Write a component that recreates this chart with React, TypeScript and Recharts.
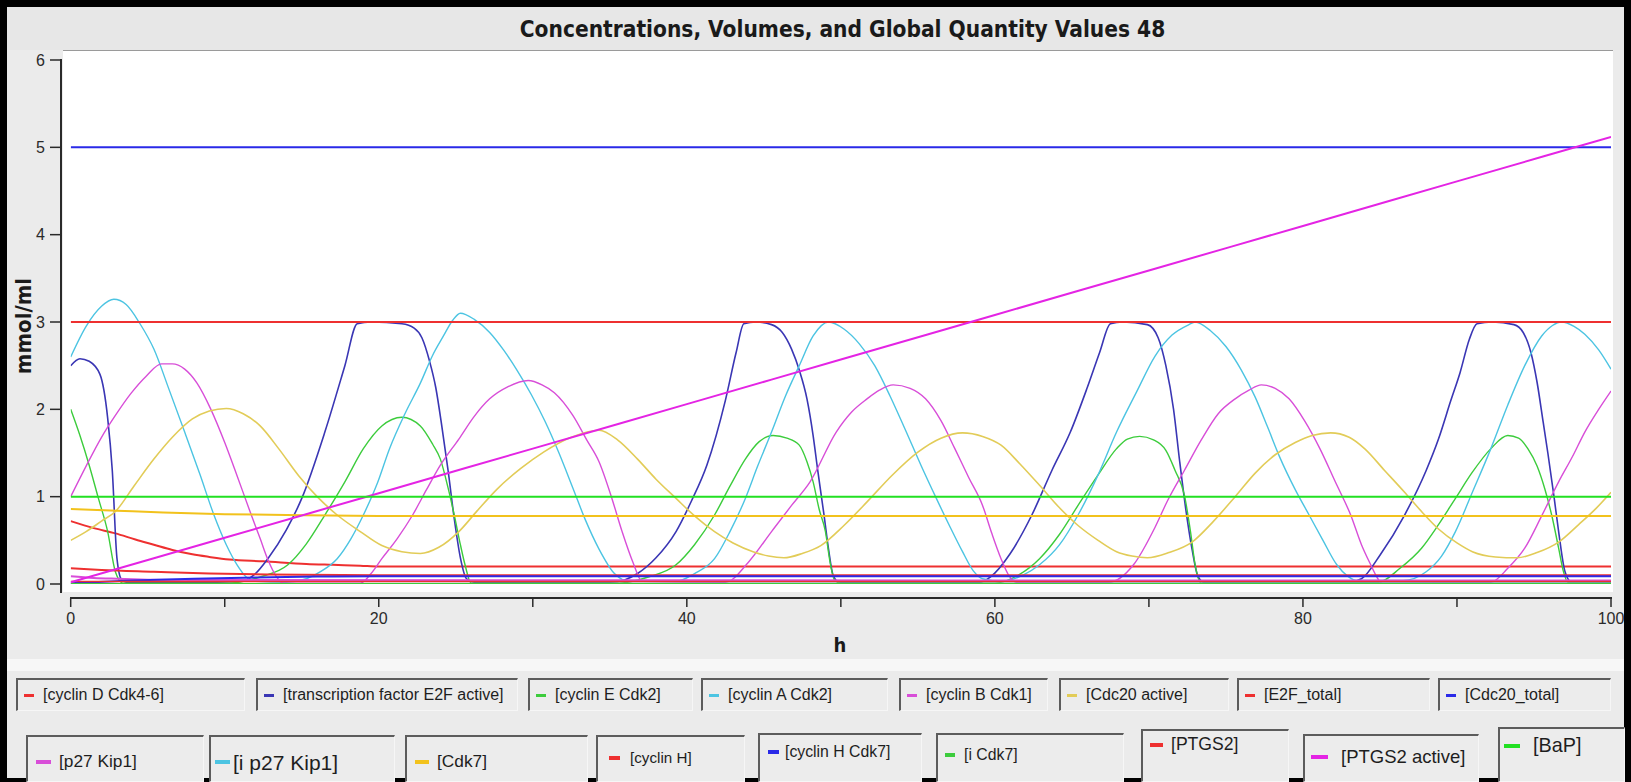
import { LineChart, Line, XAxis, YAxis } from 'recharts'

type Pt = [number, number]

// [h, mmol/ml] samples for each species
const cyclinDCdk46: Pt[] = [
  [0, 0.72], [1.5, 0.64], [2.9, 0.58], [4.2, 0.51], [5.4, 0.45], [6.6, 0.39], [7.9, 0.34],
  [9, 0.31], [10.3, 0.28], [12.5, 0.26], [15.3, 0.23], [17, 0.22], [18.8, 0.21], [20, 0.2], [100, 0.2],
]

const e2fActive: Pt[] = [
  [0, 2.5], [0.6, 2.58], [1.2, 2.55], [1.9, 2.4], [2.4, 1.9], [2.7, 1.3], [3.0, 0.3], [3.3, 0.05], [3.6, 0.02],
  [8, 0.02], [11, 0.03], [12, 0.12], [12.8, 0.29], [14, 0.62], [15, 0.98], [16.5, 1.74], [17.8, 2.5],
  [18.6, 2.98], [19.5, 3.0], [21.5, 2.98], [22.3, 2.93], [22.8, 2.82], [23.3, 2.55], [23.7, 2.25],
  [24.1, 1.8], [24.5, 1.3], [24.9, 0.75], [25.3, 0.3], [25.7, 0.06], [26.2, 0.02],
  [35, 0.02], [36, 0.05], [36.8, 0.12], [38, 0.3], [39.3, 0.6], [40.3, 0.95], [41.3, 1.36], [42.5, 2.1],
  [43.2, 2.65], [43.7, 2.98], [44.5, 3.0], [45.5, 2.97], [46.2, 2.88], [46.8, 2.69], [47.3, 2.45],
  [47.8, 2.12], [48.2, 1.7], [48.5, 1.3], [48.9, 0.8], [49.2, 0.4], [49.5, 0.1], [49.9, 0.02],
  [59, 0.02], [59.7, 0.08], [61, 0.35], [62.4, 0.79], [63.7, 1.3], [64.9, 1.74], [66, 2.25], [66.8, 2.65],
  [67.5, 2.98], [68.3, 3.0], [69.9, 2.97], [70.6, 2.82], [71.1, 2.5], [71.6, 2.0], [72.0, 1.4],
  [72.4, 0.85], [72.8, 0.4], [73.2, 0.08], [73.6, 0.02],
  [83, 0.02], [83.8, 0.06], [85, 0.33], [86.6, 0.79], [88, 1.3], [88.8, 1.66], [89.6, 2.1], [90.2, 2.42],
  [90.8, 2.8], [91.3, 2.98], [92.3, 3.0], [93.7, 2.97], [94.3, 2.88], [94.8, 2.65], [95.2, 2.31],
  [95.6, 1.85], [95.9, 1.5], [96.3, 1.0], [96.6, 0.6], [97.0, 0.15], [97.4, 0.03], [100, 0.02],
]

const cyclinECdk2: Pt[] = [
  [0, 2.0], [0.6, 1.7], [1.2, 1.36], [1.8, 0.98], [2.4, 0.6], [2.9, 0.14], [3.4, 0.01], [10.3, 0.01],
  [12.3, 0.08], [14.1, 0.22], [15.3, 0.46], [16.5, 0.79], [17.8, 1.17], [19, 1.55], [20.2, 1.81],
  [21.5, 1.91], [22.7, 1.81], [23.5, 1.6], [24, 1.43], [24.5, 1.1], [24.9, 0.79], [25.3, 0.45],
  [25.6, 0.22], [26, 0.01], [35.6, 0.01], [37.5, 0.08], [39.3, 0.22], [40.5, 0.45], [41.8, 0.79],
  [42.8, 1.12], [43.8, 1.43], [44.7, 1.63], [45.6, 1.7], [46.5, 1.67], [47.3, 1.59], [47.8, 1.4],
  [48.2, 1.17], [48.6, 0.85], [49, 0.6], [49.3, 0.25], [49.6, 0.04], [50, 0.01], [60, 0.01],
  [61.5, 0.1], [62.9, 0.29], [64.2, 0.57], [65.4, 0.9], [66.7, 1.25], [67.9, 1.55], [68.6, 1.66],
  [69.4, 1.69], [70.3, 1.65], [71.1, 1.53], [71.7, 1.3], [72.3, 1.02], [72.7, 0.6], [73.0, 0.22],
  [73.4, 0.01], [84.9, 0.02], [86.3, 0.18], [87.7, 0.41], [88.8, 0.68], [89.9, 0.98], [91, 1.28],
  [92.2, 1.55], [93.3, 1.7], [94, 1.67], [94.6, 1.55], [95.2, 1.35], [95.7, 1.09], [96.2, 0.75],
  [96.6, 0.41], [96.9, 0.15], [97.2, 0.02], [100, 0.01],
]

const cyclinACdk2: Pt[] = [
  [0, 2.6], [1, 2.95], [2, 3.18], [2.8, 3.26], [3.6, 3.2], [4.5, 2.98], [5.4, 2.69], [6.4, 2.22],
  [7.4, 1.74], [8.4, 1.25], [9.3, 0.79], [10.1, 0.45], [10.8, 0.22], [11.4, 0.08], [12, 0.03],
  [14, 0.02], [15.3, 0.06], [16.3, 0.15], [17.3, 0.29], [18.2, 0.52], [19, 0.79], [19.9, 1.15],
  [20.7, 1.55], [21.7, 1.95], [22.7, 2.3], [23.5, 2.62], [24.2, 2.84], [24.8, 3.02], [25.3, 3.1],
  [26.2, 3.03], [27.2, 2.88], [28.1, 2.68], [29.0, 2.44], [29.9, 2.17], [30.8, 1.86], [31.7, 1.5],
  [32.6, 1.1], [33.4, 0.74], [34.3, 0.4], [35.3, 0.12], [36.3, 0.03], [39.3, 0.03], [40.5, 0.12],
  [41.8, 0.29], [42.8, 0.6], [43.8, 0.98], [44.6, 1.35], [45.5, 1.74], [46.4, 2.15], [47.3, 2.5],
  [48.2, 2.84], [49.2, 3.0], [50.2, 2.92], [51.2, 2.75], [52.2, 2.5], [53.2, 2.15], [54.2, 1.76],
  [55.2, 1.36], [56.2, 0.98], [57.1, 0.65], [57.9, 0.37], [58.6, 0.15], [59.2, 0.06], [60.5, 0.03],
  [61.8, 0.1], [62.9, 0.22], [64.2, 0.45], [65.4, 0.79], [66.7, 1.25], [67.9, 1.74], [69.2, 2.2],
  [70.4, 2.61], [71.5, 2.85], [72.6, 2.97], [73.0, 3.0], [74.0, 2.9], [75.0, 2.72], [76.0, 2.45],
  [76.9, 2.14], [77.7, 1.8], [78.5, 1.45], [79.5, 1.08], [80.4, 0.79], [81.3, 0.5], [82.2, 0.22],
  [82.9, 0.09], [83.5, 0.04], [86.5, 0.04], [88, 0.14], [89, 0.32], [89.9, 0.6], [91, 1.05],
  [92.2, 1.55], [93.3, 2.05], [94.4, 2.5], [95.5, 2.84], [96.2, 2.96], [96.8, 3.0], [97.6, 2.95],
  [98.3, 2.86], [99.2, 2.68], [100, 2.46],
]

const cyclinBCdk1: Pt[] = [
  [0, 1.0], [1, 1.35], [2, 1.68], [2.9, 1.93], [3.9, 2.18], [4.9, 2.38], [5.9, 2.52], [6.6, 2.52],
  [7.4, 2.46], [8.2, 2.3], [9.1, 2.0], [10, 1.62], [10.8, 1.24], [11.6, 0.85], [12.3, 0.52],
  [12.8, 0.28], [13.3, 0.1], [13.8, 0.01], [18.8, 0.01], [19.5, 0.12], [20.2, 0.29], [21.2, 0.52],
  [22.2, 0.79], [23.1, 1.08], [24, 1.36], [25.2, 1.66], [26.2, 1.92], [27.2, 2.12], [28.4, 2.26],
  [29.7, 2.33], [30.6, 2.28], [31.4, 2.19], [32.6, 1.93], [33.5, 1.65], [34.3, 1.4], [35.1, 1.0],
  [35.8, 0.6], [36.5, 0.25], [37.1, 0.03], [42.5, 0.02], [44, 0.25], [45.5, 0.6], [46.8, 0.9],
  [48, 1.17], [49.7, 1.74], [50.7, 1.97], [51.7, 2.12], [52.5, 2.22], [53.4, 2.28], [54.5, 2.24],
  [55.5, 2.12], [56.5, 1.87], [57.4, 1.55], [58.3, 1.22], [59.2, 0.9], [59.8, 0.58], [60.4, 0.29],
  [60.9, 0.1], [61.4, 0.02], [67.4, 0.02], [69, 0.22], [70.4, 0.65], [71.2, 0.95], [72.3, 1.3],
  [73.4, 1.65], [74.5, 1.95], [75.6, 2.12], [76.5, 2.22], [77.3, 2.28], [78.2, 2.24], [79.1, 2.12],
  [80.1, 1.87], [81.1, 1.55], [82.1, 1.17], [83.1, 0.79], [83.8, 0.45], [84.4, 0.22], [84.8, 0.08],
  [85.1, 0.01], [92.2, 0.02], [93.3, 0.18], [94.4, 0.41], [95.5, 0.78], [96.6, 1.17], [97.5, 1.46],
  [98.3, 1.74], [99.2, 2.0], [100, 2.21],
]

const cdc20Active: Pt[] = [
  [0, 0.5], [1, 0.6], [2, 0.72], [2.9, 0.83], [4.1, 1.12], [5.4, 1.43], [6.6, 1.68], [7.9, 1.89],
  [9, 1.98], [10.1, 2.01], [11.2, 1.95], [12.3, 1.81], [13.5, 1.55], [14.8, 1.24], [16, 1.0],
  [17.3, 0.79], [18.8, 0.6], [20.2, 0.44], [21.5, 0.37], [22.7, 0.35], [23.9, 0.42], [25.2, 0.6],
  [26.4, 0.84], [27.7, 1.09], [29.2, 1.32], [30.7, 1.51], [32.5, 1.68], [34.3, 1.76], [35.5, 1.65],
  [36.8, 1.43], [38, 1.2], [39.3, 0.98], [40.5, 0.78], [41.8, 0.6], [43, 0.47], [44.3, 0.37],
  [45.3, 0.32], [46.3, 0.3], [47.5, 0.35], [48.7, 0.44], [50.2, 0.67], [51.7, 0.94], [53.3, 1.24],
  [55, 1.51], [56.5, 1.67], [57.9, 1.73], [59.2, 1.69], [60.4, 1.59], [61.6, 1.38], [62.9, 1.13],
  [64.1, 0.89], [65.4, 0.67], [66.7, 0.5], [67.9, 0.37], [68.9, 0.32], [69.9, 0.3], [71.3, 0.36],
  [72.8, 0.48], [74.2, 0.72], [75.6, 1.0], [76.9, 1.27], [78.2, 1.48], [79.5, 1.62], [80.6, 1.7],
  [81.8, 1.73], [83, 1.68], [84, 1.55], [85.3, 1.3], [86.6, 1.05], [87.7, 0.83], [88.8, 0.63],
  [90, 0.47], [91, 0.37], [92.5, 0.31], [93.9, 0.3], [95.2, 0.36], [96.6, 0.48], [97.9, 0.68],
  [99, 0.86], [100, 1.05],
]

const e2fTotal: Pt[] = [[0, 3.0], [100, 3.0]]
const cdc20Total: Pt[] = [[0, 5.0], [100, 5.0]]
const p27Kip1: Pt[] = [[0, 0.09], [1.5, 0.07], [3, 0.06], [5, 0.05], [8, 0.045], [100, 0.04]]
const ip27Kip1: Pt[] = [[0, 0.0], [100, 0.01]]
const cdk7: Pt[] = [[0, 0.86], [3, 0.84], [6, 0.82], [10, 0.8], [14, 0.79], [20, 0.78], [100, 0.78]]
const cyclinH: Pt[] = [[0, 0.18], [2, 0.16], [5.4, 0.14], [9, 0.12], [12.8, 0.11], [20, 0.1], [100, 0.1]]
const cyclinHCdk7: Pt[] = [[0, 0.01], [4, 0.04], [8, 0.06], [12, 0.075], [16, 0.085], [20, 0.09], [100, 0.09]]
const iCdk7: Pt[] = [[0, 0.0], [100, 0.0]]
const ptgs2: Pt[] = [[0, 0.03], [100, 0.03]]
const ptgs2Active: Pt[] = [
  [0, 0.02], [10, 0.53], [20, 1.04], [30, 1.55], [40, 2.06], [50, 2.57], [60, 3.08], [70, 3.59],
  [80, 4.1], [90, 4.61], [100, 5.12],
]
const bap: Pt[] = [[0, 1.0], [100, 1.0]]

const xTicks = [0, 10, 20, 30, 40, 50, 60, 70, 80, 90, 100]
const xMinorTicks = Array.from({ length: 21 }, (_, i) => i * 5)
const yTicks = [0, 1, 2, 3, 4, 5, 6]
const yMinorTicks = Array.from({ length: 31 }, (_, i) => +(i * 0.2).toFixed(1))

const RED = '#ee3030'
const BLUE = '#2a2ae8'
const NAVY = '#3a36b4'
const GREEN = '#3ccc3c'
const BRIGHT_GREEN = '#22e022'
const CYAN = '#4cc4e2'
const MAGENTA = '#d84ed8'
const BRIGHT_MAGENTA = '#e424e4'
const YELLOW = '#e2cc58'
const GOLD = '#f2c21c'

const series = [
  { name: '[cyclin D Cdk4-6]', color: RED, w: 2, pts: cyclinDCdk46 },
  { name: '[transcription factor E2F active]', color: NAVY, w: 1.6, pts: e2fActive },
  { name: '[cyclin E Cdk2]', color: GREEN, w: 1.4, pts: cyclinECdk2 },
  { name: '[cyclin A Cdk2]', color: CYAN, w: 1.4, pts: cyclinACdk2 },
  { name: '[cyclin B Cdk1]', color: MAGENTA, w: 1.4, pts: cyclinBCdk1 },
  { name: '[Cdc20 active]', color: YELLOW, w: 1.6, pts: cdc20Active },
  { name: '[E2F_total]', color: RED, w: 2, pts: e2fTotal },
  { name: '[Cdc20_total]', color: BLUE, w: 2, pts: cdc20Total },
  { name: '[p27 Kip1]', color: MAGENTA, w: 2, pts: p27Kip1 },
  { name: '[i p27 Kip1]', color: CYAN, w: 2, pts: ip27Kip1 },
  { name: '[Cdk7]', color: GOLD, w: 2, pts: cdk7 },
  { name: '[cyclin H]', color: RED, w: 2, pts: cyclinH },
  { name: '[cyclin H Cdk7]', color: BLUE, w: 2, pts: cyclinHCdk7 },
  { name: '[i Cdk7]', color: GREEN, w: 2, pts: iCdk7 },
  { name: '[PTGS2]', color: RED, w: 1.5, pts: ptgs2 },
  { name: '[PTGS2 active]', color: BRIGHT_MAGENTA, w: 2, pts: ptgs2Active },
  { name: '[BaP]', color: BRIGHT_GREEN, w: 2, pts: bap },
]

// legend boxes, row 1: [left, right]
const legendRow1 = [
  [16, 245], [256, 518], [528, 693], [701, 888], [899, 1048], [1059, 1229], [1237, 1430], [1438, 1611],
]
// row 2: [left, right, top, fontSize, text center y, dash offset, dash width, text offset]
const legendRow2 = [
  [26, 204, 735, 17.3, 762, 10, 15, 33],
  [209, 395, 735, 21, 762, 6, 15, 24],
  [405, 588, 735, 17.3, 762, 10, 14, 32],
  [596, 745, 735, 15.2, 758, 13, 11, 34],
  [758, 922, 733, 15.8, 752, 10, 11, 27],
  [936, 1124, 733, 15.8, 755, 9, 10, 28],
  [1141, 1289, 729, 17.6, 745, 9, 13, 30],
  [1303, 1479, 734, 18.5, 757, 8, 17, 38],
  [1498, 1625, 727, 19.8, 746, 6, 16, 35],
]

const SANS = '"Liberation Sans", Arial, sans-serif'
const BOLD = '"DejaVu Sans Condensed", "DejaVu Sans", sans-serif'
const BOX_EDGE = '#5c5c5c'

function LegendBox({ left, right, top, bottom, fontSize, cy, dashX, dashW, dashH, textX, name, color }: any) {
  return (
    <div style={{
      position: 'absolute', left, top, width: right - left, height: bottom - top, boxSizing: 'border-box',
      background: '#ececec', borderTop: `2px solid ${BOX_EDGE}`, borderLeft: `2px solid ${BOX_EDGE}`,
      borderRight: '1px solid #f6f6f6', borderBottom: '1px solid #f6f6f6',
    }}>
      <div style={{
        position: 'absolute', left: dashX - 2, top: cy - top - 2 - dashH / 2, width: dashW, height: dashH, background: color,
      }} />
      <div style={{
        position: 'absolute', left: textX - 2, top: cy - top - 2, transform: 'translateY(-50%)',
        fontFamily: SANS, fontSize, color: '#1e1e1e', whiteSpace: 'nowrap', lineHeight: 1,
      }}>{name}</div>
    </div>
  )
}

export default function App() {
  const axisTick = { fontSize: 16, fill: '#2a2a2a', fontFamily: SANS }
  const tickLine = { stroke: '#2a2a2a', strokeWidth: 1.5 }
  return (
    <div style={{ position: 'absolute', left: 0, top: 0, width: 1631, height: 782, background: '#000', overflow: 'hidden' }}>
      <div style={{ position: 'absolute', left: 7, top: 7, right: 7, bottom: 4, background: '#ebebeb' }} />
      <div style={{ position: 'absolute', left: 7, top: 7, right: 7, height: 43, background: '#e7e7e7' }} />
      <div style={{
        position: 'absolute', left: 0, width: 1631, top: 29, transform: 'translateY(-50%)', textAlign: 'center',
        paddingLeft: 54, boxSizing: 'border-box', fontFamily: BOLD, fontWeight: 700, fontSize: 22.5, color: '#1a1a1a', lineHeight: 1,
      }}>Concentrations, Volumes, and Global Quantity Values 48</div>

      {/* plot background and the two axis lines */}
      <div style={{ position: 'absolute', left: 63, top: 50, width: 1550, height: 542, background: '#fff', borderTop: '1px solid #9a9a9a', boxSizing: 'border-box' }} />
      <div style={{ position: 'absolute', left: 60, top: 59, width: 2, height: 534, background: '#2a2a2a' }} />
      <div style={{ position: 'absolute', left: 70, top: 597, width: 1542, height: 2, background: '#2a2a2a' }} />
      <div style={{ position: 'absolute', left: 7, right: 7, top: 659, height: 12, background: '#f7f7f7' }} />

      <div style={{ position: 'absolute', left: 0, top: 0 }}>
        <LineChart width={1631} height={782} margin={{ top: 50, right: 18, left: 22, bottom: 154 }}>
          <XAxis xAxisId="hm" type="number" dataKey="h" domain={[0, 100]} ticks={xMinorTicks} tick={false}
            tickSize={4} axisLine={false} height={0} padding={{ left: 8.7, right: 2 }} allowDataOverflow
            tickLine={tickLine} />
          <XAxis xAxisId="h" type="number" dataKey="h" domain={[0, 100]} ticks={xTicks} tickSize={9} tickMargin={6}
            tickFormatter={(v: number) => (v % 20 === 0 ? String(v) : '')} axisLine={false} height={30}
            padding={{ left: 8.7, right: 2 }} allowDataOverflow tick={axisTick} tickLine={tickLine} />
          <YAxis yAxisId="vm" type="number" domain={[0, 6]} ticks={yMinorTicks} tick={false} tickSize={6}
            axisLine={false} width={0} padding={{ top: 10, bottom: 14 }} allowDataOverflow tickLine={tickLine} />
          <YAxis yAxisId="v" type="number" domain={[0, 6]} ticks={yTicks} tickSize={12} tickMargin={5}
            axisLine={false} width={40} padding={{ top: 10, bottom: 14 }} allowDataOverflow tick={axisTick}
            tickLine={tickLine} />
          {series.map(s => (
            <Line key={s.name} xAxisId="h" yAxisId="v" data={s.pts.map(([h, v]) => ({ h, v }))} dataKey="v"
              type="monotone" stroke={s.color} strokeWidth={s.w} dot={false} activeDot={false}
              isAnimationActive={false} />
          ))}
        </LineChart>
      </div>

      <div style={{
        position: 'absolute', left: 24, top: 326, transform: 'translate(-50%, -50%) rotate(-90deg)',
        fontFamily: BOLD, fontWeight: 700, fontSize: 22, color: '#1a1a1a', whiteSpace: 'nowrap', lineHeight: 1,
      }}>mmol/ml</div>
      <div style={{
        position: 'absolute', left: 840, top: 645, transform: 'translate(-50%, -50%)',
        fontFamily: BOLD, fontWeight: 700, fontSize: 20, color: '#1a1a1a', lineHeight: 1,
      }}>h</div>

      {legendRow1.map(([l, r], i) => (
        <LegendBox key={series[i].name} left={l} right={r} top={678} bottom={711} fontSize={16} cy={695}
          dashX={8} dashW={10} dashH={3} textX={27} name={series[i].name} color={series[i].color} />
      ))}
      {legendRow2.map(([l, r, t, fs, cy, dx, dw, tx], i) => (
        <LegendBox key={series[i + 8].name} left={l} right={r} top={t} bottom={782} fontSize={fs} cy={cy}
          dashX={dx} dashW={dw} dashH={4} textX={tx} name={series[i + 8].name} color={series[i + 8].color} />
      ))}
    </div>
  )
}
